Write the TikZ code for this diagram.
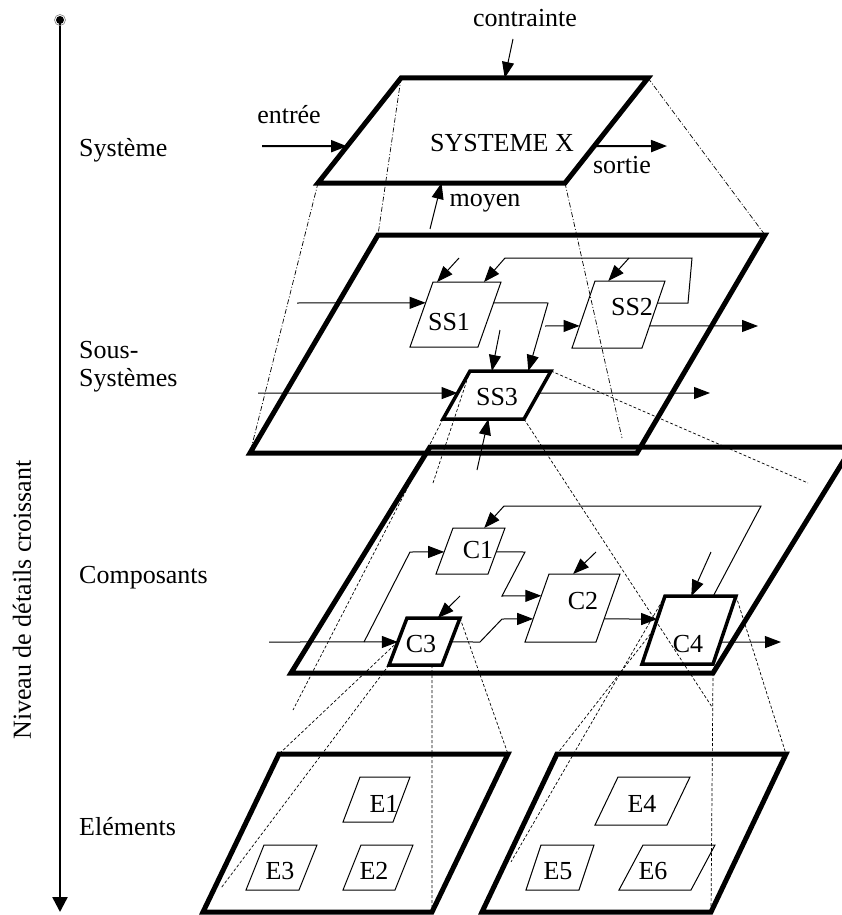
\documentclass[tikz,border=0pt]{standalone}
\usepackage{fontspec}
\setmainfont{Liberation Serif}
\usetikzlibrary{arrows.meta, calc}

\newcommand{\parallelo}[7][]{%
  \coordinate (#2-bl) at (#3,#4);
  \coordinate (#2-br) at (#3+#5,#4);
  \coordinate (#2-tl) at (#3+#7,#4-#6);
  \coordinate (#2-tr) at (#3+#7+#5,#4-#6);
  \draw[#1] (#2-bl) -- (#2-br) -- (#2-tr) -- (#2-tl) -- cycle;}

\begin{document}
\begin{tikzpicture}[x=1pt, y=-1pt, >={Triangle[length=16pt,width=12pt]},
		plan/.style={line width=5pt},
		bloc/.style={line width=1pt},
		blocfort/.style={line width=3.5pt},
		lien/.style={->, line width=1pt},
		proj/.style={line width=0.7pt, dash pattern=on 3pt off 2pt},
		projmix/.style={line width=0.7pt, dash pattern=on 5pt off 2pt on 1pt off 2pt},
		lbl/.style={inner sep=0pt, font=\fontsize{26}{28}\selectfont}]
		
		\useasboundingbox (0,0) rectangle (841,915);
		
		% axe des niveaux
		\coordinate (haut) at (60,20);
		\coordinate (bas) at (60,912);
		\draw[line width=2.5pt, -{Triangle[length=15pt,width=15pt]}] (haut) -- (bas);
		\fill (haut) circle (4);
		\draw[line width=0.6pt, gray] (haut) circle (5.5);
		\node[lbl, rotate=90] (niveau) at (22,600) {Niveau de détails croissant};
		
		\node[lbl, anchor=west] (lsys) at (79,150) {Système};
		\node[lbl, anchor=west, align=left] (lss) at (79,367) {Sous-\\Systèmes};
		\node[lbl, anchor=west] (lcomp) at (79,578) {Composants};
		\node[lbl, anchor=west] (lelem) at (79,827) {Eléments};
		
		% systeme
		\parallelo[plan]{sys}{318}{183}{247}{105}{83}
		\node[lbl] (sysx) at (502,143) {SYSTEME X};
		\node[lbl] (contrainte) at (525,18) {contrainte};
		\node[lbl] (entree) at (289,115) {entrée};
		\node[lbl] (sortie) at (622,165) {sortie};
		\node[lbl] (moyen) at (485,203) {moyen};
		\coordinate (c-dep) at (513,39);
		\coordinate (e-dep) at (262,146);
		\coordinate (s-fin) at (667,146);
		\coordinate (m-dep) at (430,229);
		\draw[->, line width=1pt] (c-dep) -- ($(sys-tl)!.42!(sys-tr)$);
		\draw[->, line width=2pt] (e-dep) -- ($(sys-bl)!.35!(sys-tl)$);
		\draw[->, line width=2pt] ($(sys-br)!.35!(sys-tr)$) -- (s-fin);
		\draw[->, line width=1pt] (m-dep) -- ($(sys-bl)!.5!(sys-br)$);
		
		% sous-systemes
		\parallelo[plan]{pss}{250}{453}{387}{218}{128}
		\parallelo[bloc]{ss1}{410}{347}{68}{65}{23}
		\parallelo[bloc]{ss2}{572}{348}{70}{67}{23}
		\parallelo[blocfort]{ss3}{443}{419}{81}{48}{27}
		\node[lbl] (ss1) at (449,322) {SS1};
		\node[lbl] (ss2) at (632,307) {SS2};
		\node[lbl] (ss3) at (497,397) {SS3};
		
		\coordinate (ss1-in) at (297,303);
		\coordinate (ss1-haut) at (459,258);
		\coordinate (ss1-bas) at (500,330);
		\coordinate (ss2-haut) at (629,258);
		\coordinate (ss2-in) at (545,326);
		\coordinate (ss2-out) at (758,326);
		\coordinate (ss3-in) at (258,393);
		\coordinate (ss3-out) at (710,393);
		\coordinate (ss3-moy) at (477,470);
		\coordinate (boucle1) at (688,303);
		\coordinate (boucle2) at (692,258);
		\coordinate (boucle3) at (505,258);
		\coordinate (coude1) at (548,303);
		
		\draw[lien] (ss1-in) -- ($(ss1-bl)!.68!(ss1-tl)$);
		\draw[lien] (ss1-haut) -- ($(ss1-tl)!.06!(ss1-tr)$);
		\draw[lien] ($(ss2-br)!.67!(ss2-tr)$) -- (boucle1) -- (boucle2) -- (boucle3) -- ($(ss1-tl)!.75!(ss1-tr)$);
		\draw[lien] (ss2-haut) -- ($(ss2-tl)!.19!(ss2-tr)$);
		\draw[lien] ($(ss1-br)!.68!(ss1-tr)$) -- (coude1) -- ($(ss3-tl)!.72!(ss3-tr)$);
		\draw[lien] (ss1-bas) -- ($(ss3-tl)!.27!(ss3-tr)$);
		\draw[lien] (ss2-in) -- ($(ss2-bl)!.33!(ss2-tl)$);
		\draw[lien] ($(ss2-br)!.33!(ss2-tr)$) -- (ss2-out);
		\draw[lien] (ss3-in) -- ($(ss3-bl)!.54!(ss3-tl)$);
		\draw[lien] ($(ss3-br)!.54!(ss3-tr)$) -- (ss3-out);
		\draw[lien] (ss3-moy) -- ($(ss3-bl)!.56!(ss3-br)$);
		
		% composants
		\parallelo[plan]{pc}{291}{673}{422}{226}{139}
		\parallelo[bloc]{c1}{436}{574}{52}{46}{17}
		\parallelo[bloc]{c2}{525}{642}{71}{68}{24}
		\parallelo[blocfort]{c3}{389}{665}{53}{47}{18}
		\parallelo[blocfort]{c4}{642}{664}{71}{68}{23}
		\node[lbl] (c1) at (478,550) {C1};
		\node[lbl] (c2) at (583,601) {C2};
		\node[lbl] (c3) at (421,644) {C3};
		\node[lbl] (c4) at (688,644) {C4};
		
		\coordinate (r1) at (761,506);
		\coordinate (r2) at (504,506);
		\coordinate (c2-haut) at (596,552);
		\coordinate (c3-haut) at (460,596);
		\coordinate (c4-haut) at (711,552);
		\coordinate (c3-in) at (269,642);
		\coordinate (c4-out) at (781,642);
		\coordinate (b1) at (364,642);
		\coordinate (b2) at (410,552);
		\coordinate (d1) at (525,552);
		\coordinate (d2) at (502,596);
		\coordinate (f1) at (480,642);
		\coordinate (f2) at (502,619);
		
		\draw[lien] ($(c4-tl)!.68!(c4-tr)$) -- (r1) -- (r2) -- ($(c1-tl)!.6!(c1-tr)$);
		\draw[lien] (c2-haut) -- ($(c2-tl)!.34!(c2-tr)$);
		\draw[lien] (c3-haut) -- ($(c3-tl)!.58!(c3-tr)$);
		\draw[lien] (c4-haut) -- ($(c4-tl)!.37!(c4-tr)$);
		\draw[lien] (c3-in) -- ($(c3-bl)!.49!(c3-tl)$);
		\draw[lien] (b1) -- (b2) -- ($(c1-bl)!.48!(c1-tl)$);
		\draw[lien] ($(c1-br)!.48!(c1-tr)$) -- (d1) -- (d2) -- ($(c2-bl)!.68!(c2-tl)$);
		\draw[lien] ($(c3-br)!.49!(c3-tr)$) -- (f1) -- (f2) -- ($(c2-bl)!.34!(c2-tl)$);
		\draw[lien] ($(c2-br)!.34!(c2-tr)$) -- ($(c4-bl)!.66!(c4-tl)$);
		\draw[lien] ($(c4-br)!.32!(c4-tr)$) -- (c4-out);
		
		% elements
		\parallelo[plan]{pel}{203}{912}{229}{158}{76}
		\parallelo[plan]{per}{482}{912}{229}{158}{75}
		\parallelo[bloc]{e1}{343}{822}{50}{45}{17}
		\parallelo[bloc]{e2}{343}{890}{52}{45}{18}
		\parallelo[bloc]{e3}{246}{890}{53}{45}{18}
		\parallelo[bloc]{e4}{595}{825}{72}{48}{23}
		\parallelo[bloc]{e5}{526}{890}{53}{45}{15}
		\parallelo[bloc]{e6}{619}{890}{72}{45}{24}
		\node[lbl] (e1) at (384,804) {E1};
		\node[lbl] (e2) at (374,871) {E2};
		\node[lbl] (e3) at (280,871) {E3};
		\node[lbl] (e4) at (642,804) {E4};
		\node[lbl] (e5) at (558,871) {E5};
		\node[lbl] (e6) at (653,871) {E6};
		
		% projections
		\coordinate (pC) at (622,438);
		\coordinate (q1) at (433,483);
		\coordinate (q2) at (293,710);
		\coordinate (q3) at (712,707);
		\coordinate (q4) at (808,483);
		\draw[projmix] (sys-bl) -- (pss-bl);
		\draw[projmix] (sys-tl) -- (pss-tl);
		\draw[projmix] (sys-br) -- (pC);
		\draw[projmix] (sys-tr) -- (pss-tr);
		\draw[proj] (ss3-tl) -- (q1);
		\draw[proj] (ss3-bl) -- (q2);
		\draw[proj] (ss3-br) -- (q3);
		\draw[proj] (ss3-tr) -- (q4);
		\draw[proj] ($(c3-bl)!.5!(c3-tl)$) -- (pel-tl);
		\draw[proj, shorten >=31pt] (c3-bl) -- (pel-bl);
		\draw[proj] ($(c3-bl)!.81!(c3-br)$) -- (pel-br);
		\draw[proj] (c3-tr) -- (pel-tr);
		\draw[proj] ($(c4-bl)!.5!(c4-tl)$) -- (per-tl);
		\draw[proj, shorten >=58pt] (c4-tl) -- (per-bl);
		\draw[proj] (pc-br) -- (per-br);
		\draw[proj] (c4-tr) -- (per-tr);
	\end{tikzpicture}
\end{document}
